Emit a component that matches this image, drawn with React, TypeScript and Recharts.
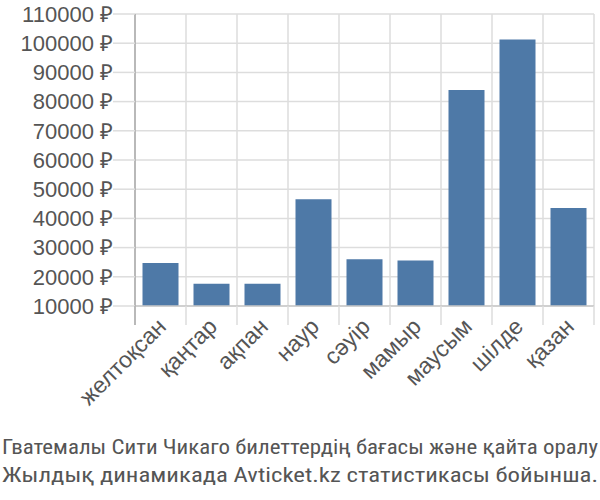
import { BarChart, Bar, XAxis, YAxis, CartesianGrid } from "recharts"

const months = ["желтоқсан", "қаңтар", "ақпан", "наур", "сәуір", "мамыр", "маусым", "шілде", "қазан"]
const prices = [24700, 17600, 17600, 46600, 26000, 25600, 84000, 101300, 43600]
const yTicks = [10000, 20000, 30000, 40000, 50000, 60000, 70000, 80000, 90000, 100000, 110000]
const titleLines = [
  "Гватемалы Сити Чикаго билеттердің бағасы және қайта оралу",
  "Жылдық динамикада Avticket.kz статистикасы бойынша.",
]

const data = months.map((m, i) => ({ month: m, price: prices[i] }))

const FONT = "'Liberation Sans', Arial, sans-serif"
const TEXT = "#555"
const GRID = "#dddddd"

const MonthTick = (props: any) => {
  const { x, y, payload, index, width } = props
  const band = width / months.length
  const top = y
  return (
    <g>
      <line x1={x - band / 2} y1={top} x2={x - band / 2} y2={top + 19} stroke={GRID} strokeWidth={1.5} />
      {index === months.length - 1 && (
        <line x1={x + band / 2} y1={top} x2={x + band / 2} y2={top + 19} stroke={GRID} strokeWidth={1.5} />
      )}
      <g transform={`translate(${x + 7},${top + 22})`}>
        <text
          x={0}
          y={0}
          textAnchor="end"
          fill={TEXT}
          fontSize={23}
          fontFamily={FONT}
          transform="rotate(-45)"
        >
          {payload.value}
        </text>
      </g>
    </g>
  )
}

export default function App() {
  return (
    <div style={{ position: "absolute", left: 0, top: 0, width: 600, height: 500, background: "#fff" }}>
      <BarChart
        width={600}
        height={500}
        data={data}
        barCategoryGap={7.5}
        margin={{ top: 14, right: 6, left: 0, bottom: 0 }}
      >
        <CartesianGrid
          stroke={GRID}
          strokeWidth={1.5}
          verticalCoordinatesGenerator={({ offset }: any) =>
            months.map((_, i) => offset.left + (offset.width / months.length) * i).concat(offset.left + offset.width)
          }
        />
        <XAxis
          dataKey="month"
          height={194}
          tickLine={false}
          tickSize={0}
          tickMargin={0}
          axisLine={{ stroke: "#c8c8c8", strokeWidth: 1.5 }}
          tick={<MonthTick />}
          interval={0}
        />
        <YAxis
          width={135}
          domain={[10000, 110000]}
          ticks={yTicks}
          interval={0}
          allowDataOverflow
          tickSize={22}
          tickMargin={0}
          tickLine={{ stroke: GRID, strokeWidth: 1.5 }}
          axisLine={{ stroke: "#aaaaaa", strokeWidth: 1.5 }}
          tick={{ fill: TEXT, fontSize: 22, fontFamily: FONT }}
          tickFormatter={(v: number) => `${v} ₽`}
        />
        <Bar dataKey="price" fill="#4e79a7" isAnimationActive={false} />
      </BarChart>
      <svg width={600} height={500} style={{ position: "absolute", left: 0, top: 0, pointerEvents: "none" }}>
        <line x1={135} y1={306} x2={135} y2={325} stroke="#aaaaaa" strokeWidth={1.5} />
        {titleLines.map((t, i) => (
          <text
            key={i}
            x={2}
            y={454 + i * 28}
            fill={TEXT}
            fontSize={20}
            fontFamily="'Liberation Sans Narrow', 'Roboto Condensed', 'Arial Narrow', sans-serif"
            textLength={596}
            lengthAdjust="spacingAndGlyphs"
          >
            {t}
          </text>
        ))}
      </svg>
    </div>
  )
}
